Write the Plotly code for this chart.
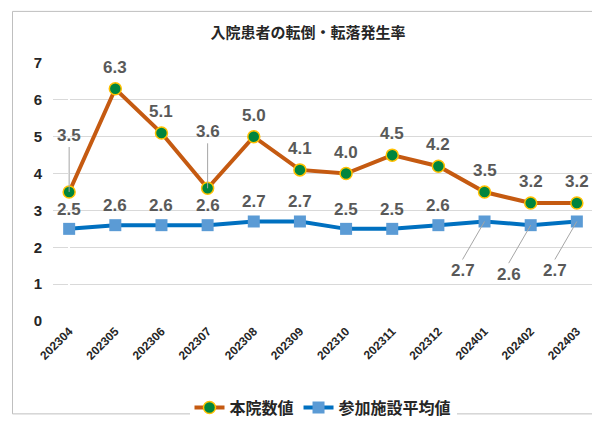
import plotly.graph_objects as go

months = ['202304', '202305', '202306', '202307', '202308', '202309',
          '202310', '202311', '202312', '202401', '202402', '202403']
hospital = [3.5, 6.3, 5.1, 3.6, 5.0, 4.1, 4.0, 4.5, 4.2, 3.5, 3.2, 3.2]
average = [2.5, 2.6, 2.6, 2.6, 2.7, 2.7, 2.5, 2.5, 2.6, 2.7, 2.6, 2.7]

xs = list(range(len(months)))
LABEL = dict(family='Liberation Sans', size=17, color='#595959')

fig = go.Figure()
fig.add_trace(go.Scatter(
    x=xs, y=hospital, name='本院数値', mode='lines+markers',
    line=dict(color='#C55A11', width=4),
    marker=dict(symbol='circle', size=12, color='#00853E',
                line=dict(color='#FFC000', width=1.5)),
))
fig.add_trace(go.Scatter(
    x=xs, y=average, name='参加施設平均値', mode='lines+markers',
    line=dict(color='#0070C0', width=4),
    marker=dict(symbol='square', size=12, color='#5B9BD5'),
))

for i, v in enumerate(hospital):
    if i in (0, 3):
        fig.add_annotation(x=xs[i], y=v, text=f'<b>{v:.1f}</b>', font=LABEL,
                           showarrow=True, arrowhead=0, arrowcolor='#A6A6A6',
                           arrowwidth=1, ax=0, ay=-45, yanchor='bottom')
    else:
        fig.add_annotation(x=xs[i], y=v, text=f'<b>{v:.1f}</b>', font=LABEL,
                           showarrow=False, yshift=10, yanchor='bottom')

for i, v in enumerate(average):
    if i >= 9:
        fig.add_annotation(x=xs[i], y=v, text=f'<b>{v:.1f}</b>', font=LABEL,
                           showarrow=True, arrowhead=0, arrowcolor='#A6A6A6',
                           arrowwidth=1, ax=-22, ay=38, yanchor='top')
    else:
        fig.add_annotation(x=xs[i], y=v, text=f'<b>{v:.1f}</b>', font=LABEL,
                           showarrow=False, yshift=8, yanchor='bottom')

fig.add_shape(type='rect', xref='paper', yref='paper', x0=-0.075, x1=1.02,
              y0=-0.36, y1=1.2, line=dict(color='#BFBFBF', width=1))

fig.update_layout(
    width=600, height=429, plot_bgcolor='white', paper_bgcolor='white',
    margin=dict(l=45, r=15, t=55, b=106),
    font=dict(family='Noto Sans CJK JP', color='#404040'),
    title=dict(text='<b>入院患者の転倒・転落発生率</b>', x=0.5, y=0.955,
               font=dict(size=15, color='#262626')),
    xaxis=dict(tickmode='array', tickvals=xs, ticktext=months, range=[-0.35, 11.35],
               tickangle=-45, showgrid=False,
               tickfont=dict(size=12, color='#262626', family='Liberation Sans', weight='bold')),
    yaxis=dict(range=[0, 7], dtick=1, gridcolor='#D9D9D9', zeroline=False,
               tickfont=dict(size=15, color='#262626', family='Liberation Sans', weight='bold'),
               ticklabelstandoff=10),
    legend=dict(orientation='h', x=0.5, xanchor='center', y=-0.27,
                font=dict(size=16, color='#262626', weight='bold')),
)

fig.write_html('out.html')
